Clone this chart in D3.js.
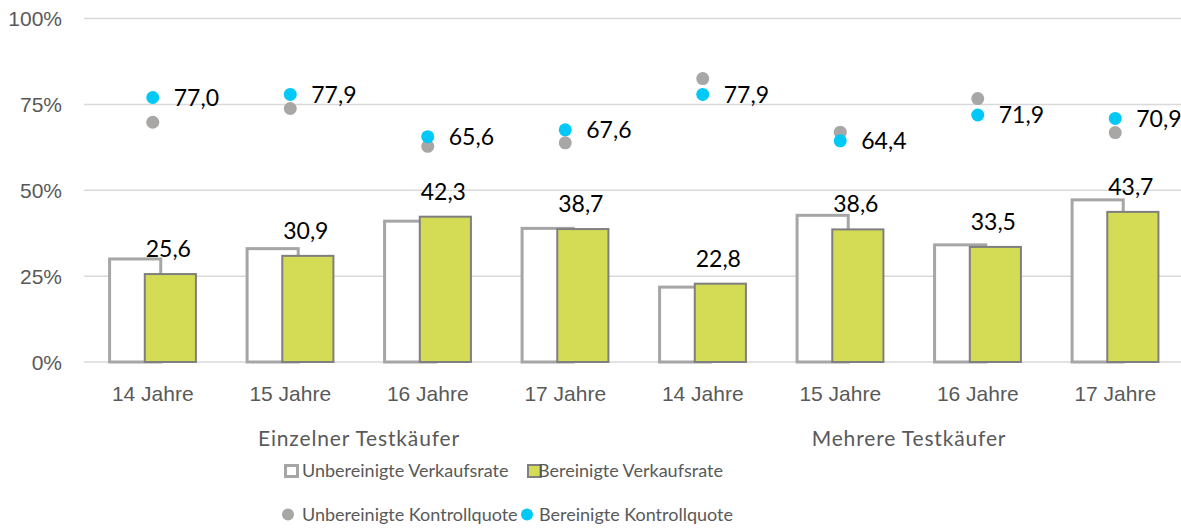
<!DOCTYPE html>
<html>
<head>
<meta charset="utf-8">
<script src="https://cdn.jsdelivr.net/npm/d3@7"></script>
<style>
  html, body { margin: 0; padding: 0; background: #fff; }
  svg { display: block; font-family: Lato, "Open Sans", sans-serif; }
</style>
</head>
<body>
<svg id="chart" width="1181" height="529"></svg>
<script>
// Test purchase groups and ages
const groups = ["Einzelner Testkäufer", "Mehrere Testkäufer"];
const ages = ["14 Jahre", "15 Jahre", "16 Jahre", "17 Jahre"];

// Sales rates (bars), in percent
const unbereinigteVerkaufsrate = [30.0, 33.0, 41.0, 38.9, 21.8, 42.7, 34.1, 47.2];
const bereinigteVerkaufsrate   = [25.6, 30.9, 42.3, 38.7, 22.8, 38.6, 33.5, 43.7];

// Control rates (dots), in percent
const unbereinigteKontrollquote = [69.8, 73.8, 62.8, 63.8, 82.5, 66.9, 76.7, 66.8];
const bereinigteKontrollquote   = [77.0, 77.9, 65.6, 67.6, 77.9, 64.4, 71.9, 70.9];

const yTicks = [0, 25, 50, 75, 100];

const legendItems = [
  { label: "Unbereinigte Verkaufsrate", kind: "rectOpen" },
  { label: "Bereinigte Verkaufsrate", kind: "rectFill" },
  { label: "Unbereinigte Kontrollquote", kind: "dotGray" },
  { label: "Bereinigte Kontrollquote", kind: "dotCyan" }
];

const colors = {
  grid: "#d9d9d9",
  axisText: "#595959",
  openStroke: "#a6a6a6",
  fill: "#d4dc56",
  fillStroke: "#7f7f7f",
  dotGray: "#a9a6a6",
  dotCyan: "#00c8f7"
};

const fmt = v => d3.format(".1f")(v).replace(".", ",");

const svg = d3.select("#chart");

const keys = [];
groups.forEach(g => ages.forEach(a => keys.push(g + "|" + a)));

const x = d3.scaleBand().domain(keys).range([84, 1184]).padding(0);
const y = d3.scaleLinear().domain([0, 100]).range([362, 18.5]);

const bw = x.bandwidth();
const barW = bw * 0.372;
const offset = bw * 0.128;

// gridlines
svg.append("g")
  .selectAll("line")
  .data(yTicks)
  .join("line")
  .attr("x1", 84).attr("x2", 1181)
  .attr("y1", d => y(d)).attr("y2", d => y(d))
  .attr("stroke", colors.grid)
  .attr("stroke-width", 1.5);

// y axis labels
const yAxis = d3.axisLeft(y).tickValues(yTicks).tickFormat(d => d + "%").tickSize(0).tickPadding(0);
const yg = svg.append("g").attr("transform", "translate(62,0)").call(yAxis);
yg.select(".domain").remove();
yg.selectAll("text")
  .attr("fill", colors.axisText)
  .style("font-size", "21px")
  .attr("dy", "0.35em");

// x axis labels
const xAxis = d3.axisBottom(x).tickFormat(k => k.split("|")[1]).tickSize(0).tickPadding(0);
const xg = svg.append("g").attr("transform", "translate(0,385)").call(xAxis);
xg.select(".domain").remove();
xg.selectAll("text")
  .attr("fill", colors.axisText)
  .style("font-size", "21px")
  .attr("dy", "0.78em");

// group labels
svg.append("g")
  .selectAll("text")
  .data(groups)
  .join("text")
  .attr("x", g => {
    const ks = keys.filter(k => k.startsWith(g + "|"));
    return (x(ks[0]) + x(ks[ks.length - 1]) + bw) / 2;
  })
  .attr("y", 446)
  .attr("text-anchor", "middle")
  .attr("fill", colors.axisText)
  .style("font-size", "21px")
  .style("letter-spacing", "0.85px")
  .text(g => g);

const rows = keys.map((k, i) => ({
  key: k,
  uv: unbereinigteVerkaufsrate[i],
  bv: bereinigteVerkaufsrate[i],
  uk: unbereinigteKontrollquote[i],
  bk: bereinigteKontrollquote[i]
}));

const cx = d => x(d.key) + bw / 2;

// unadjusted sales rate (open bars)
svg.append("g")
  .selectAll("rect")
  .data(rows)
  .join("rect")
  .attr("x", d => cx(d) - offset - barW / 2)
  .attr("width", barW)
  .attr("y", d => y(d.uv))
  .attr("height", d => y(0) - y(d.uv))
  .attr("fill", "#fff")
  .attr("stroke", colors.openStroke)
  .attr("stroke-width", 3);

// adjusted sales rate (filled bars)
svg.append("g")
  .selectAll("rect")
  .data(rows)
  .join("rect")
  .attr("x", d => cx(d) + offset - barW / 2)
  .attr("width", barW)
  .attr("y", d => y(d.bv))
  .attr("height", d => y(0) - y(d.bv))
  .attr("fill", colors.fill)
  .attr("stroke", colors.fillStroke)
  .attr("stroke-width", 2);

// bar value labels
svg.append("g")
  .selectAll("text")
  .data(rows)
  .join("text")
  .attr("x", d => cx(d) + offset - 2)
  .attr("y", d => y(d.bv) - 17)
  .attr("text-anchor", "middle")
  .attr("fill", "#000")
  .style("font-size", "23px")
  .text(d => fmt(d.bv));

// unadjusted control rate dots
svg.append("g")
  .selectAll("circle")
  .data(rows)
  .join("circle")
  .attr("cx", cx)
  .attr("cy", d => y(d.uk))
  .attr("r", 6.5)
  .attr("fill", colors.dotGray);

// adjusted control rate dots
svg.append("g")
  .selectAll("circle")
  .data(rows)
  .join("circle")
  .attr("cx", cx)
  .attr("cy", d => y(d.bk))
  .attr("r", 6.5)
  .attr("fill", colors.dotCyan);

// dot value labels
svg.append("g")
  .selectAll("text")
  .data(rows)
  .join("text")
  .attr("x", d => cx(d) + 21)
  .attr("y", d => y(d.bk))
  .attr("dy", "0.36em")
  .attr("fill", "#000")
  .style("font-size", "23px")
  .text(d => fmt(d.bk));

// legend
const legendPos = [
  { x: 284, y: 477, tx: 302 },
  { x: 527, y: 477, tx: 538 },
  { x: 284, y: 521, tx: 302 },
  { x: 521, y: 521, tx: 539 }
];
const lg = svg.append("g");
legendItems.forEach((item, i) => {
  const p = legendPos[i];
  const g = lg.append("g");
  if (item.kind === "rectOpen") {
    g.append("rect").attr("x", p.x + 1.5).attr("y", p.y - 11.5).attr("width", 12).attr("height", 11)
      .attr("fill", "#fff").attr("stroke", colors.openStroke).attr("stroke-width", 3);
  } else if (item.kind === "rectFill") {
    g.append("rect").attr("x", p.x + 1).attr("y", p.y - 12).attr("width", 13).attr("height", 12)
      .attr("fill", colors.fill).attr("stroke", colors.fillStroke).attr("stroke-width", 2);
  } else {
    g.append("circle").attr("cx", p.x + (item.kind === "dotGray" ? 4 : 6)).attr("cy", p.y - 6.5).attr("r", 6)
      .attr("fill", item.kind === "dotGray" ? colors.dotGray : colors.dotCyan);
  }
  g.append("text")
    .attr("x", p.tx)
    .attr("y", p.y)
    .attr("fill", colors.axisText)
    .style("font-size", "18px")
    .text(item.label);
});
</script>
</body>
</html>
